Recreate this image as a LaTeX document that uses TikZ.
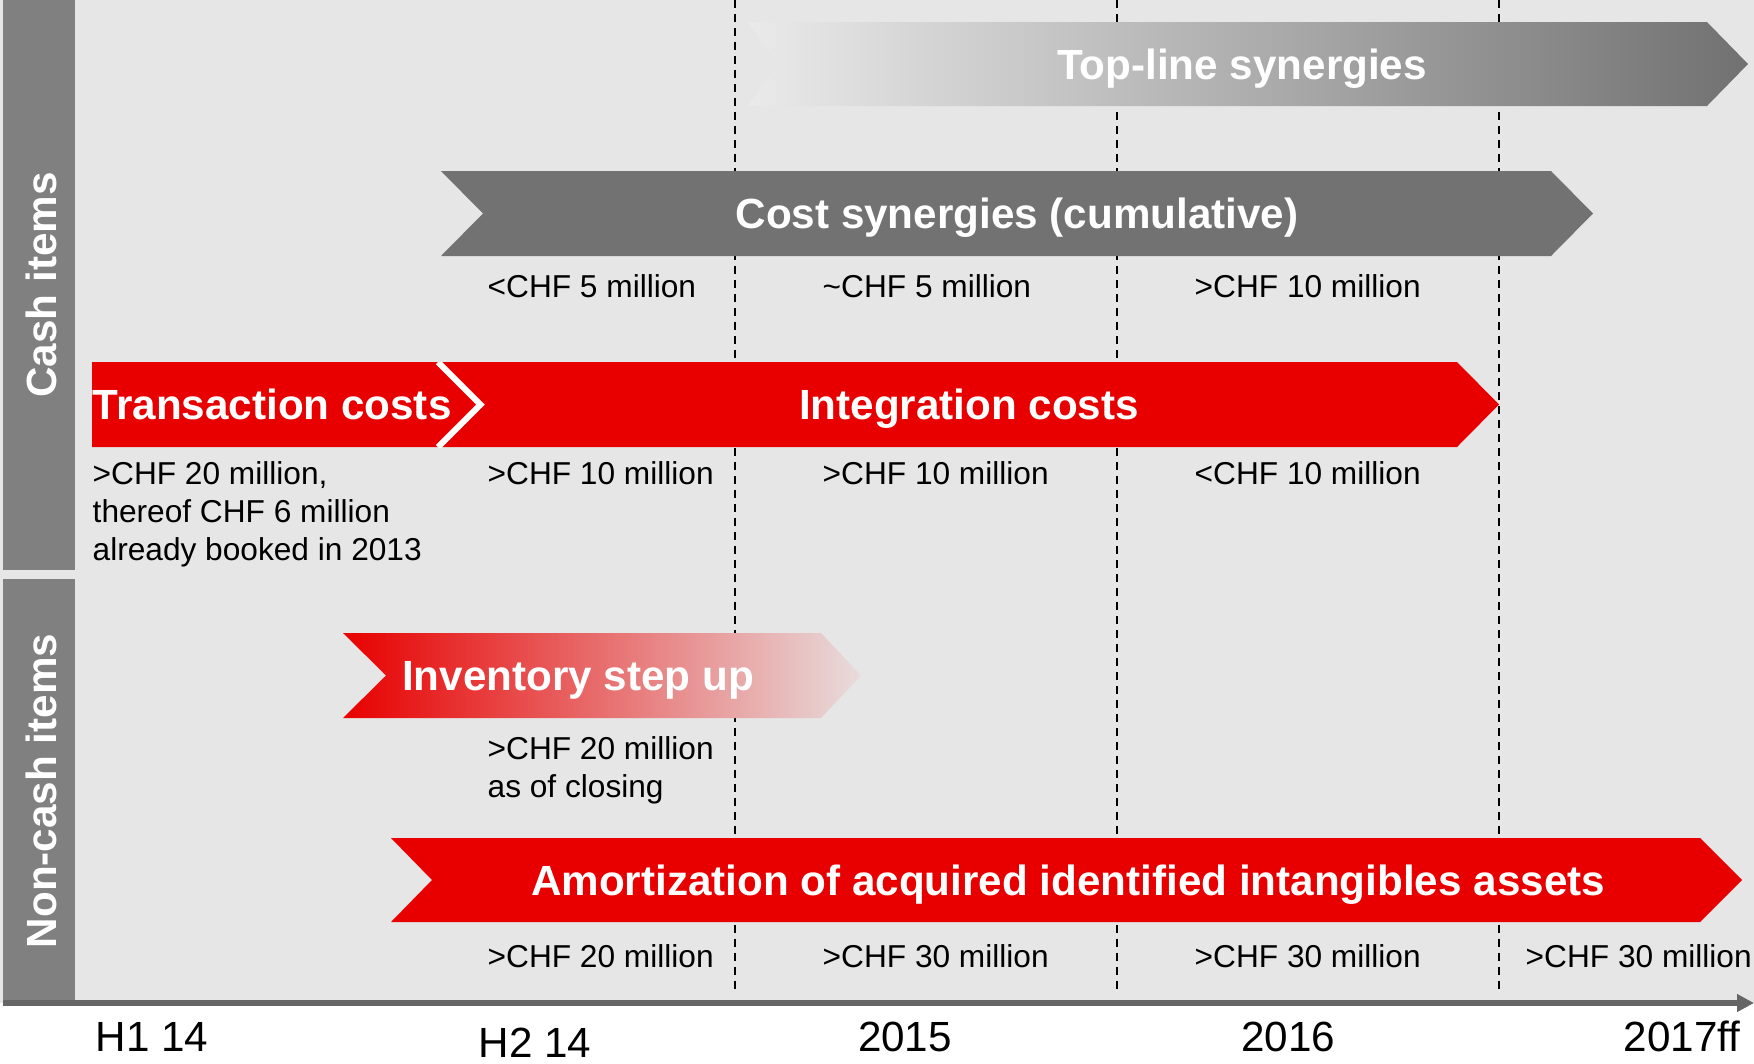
\documentclass[tikz,border=0pt]{standalone}
\usepackage{fontspec}
\setmainfont{Liberation Sans}
\usetikzlibrary{arrows.meta}

\definecolor{panel}{HTML}{E6E6E6}
\definecolor{sidegray}{HTML}{808080}
\definecolor{costgray}{HTML}{727272}
\definecolor{topL}{HTML}{EAEAEA}
\definecolor{topR}{HTML}{717171}
\definecolor{brand}{RGB}{232,0,0}
\definecolor{invR}{RGB}{232,220,220}
\definecolor{axisgray}{HTML}{666666}

\tikzset{
  band label/.style={text=white, font=\fontsize{12}{14}\selectfont\bfseries, inner sep=0pt, anchor=base},
  value/.style={text=black, font=\fontsize{9}{10.8}\selectfont, inner sep=0pt, anchor=base west},
  value block/.style={text=black, font=\fontsize{9}{10.8}\selectfont, inner sep=0pt, anchor=north west, align=left},
  year/.style={text=black, font=\fontsize{12}{14}\selectfont, inner sep=0pt},
  side label/.style={text=white, font=\fontsize{12}{14}\selectfont\bfseries, rotate=90, anchor=base, inner sep=0pt},
  divider/.style={draw=black, line width=0.02cm, dash pattern=on 0.08cm off 0.06cm},
}

\begin{document}
\begin{tikzpicture}[x=0.01cm, y=-0.01cm]
  \useasboundingbox (0,0) rectangle (1754,1063);
  \fill[white] (0,0) rectangle (1754,1063);
  \fill[panel] (0,0) rectangle (1754,1003);

  % period dividers
  \foreach \name/\xx in {dA/735, dB/1117, dC/1499} {
    \coordinate (\name top) at (\xx,0);
    \coordinate (\name bot) at (\xx,992);
    \draw[divider] (\name top) -- (\name bot);
  }

  % top-line synergies band (fading in from the left)
  \shade[left color=topL, right color=topR]
    (748,22) -- (1707,22) -- (1748,64) -- (1707,106) -- (748,106) -- (777,64) -- cycle;

  % cost synergies band
  \fill[costgray]
    (441,171) -- (1551,171) -- (1593,213.5) -- (1551,256) -- (441,256) -- (483,213.5) -- cycle;

  % transaction + integration costs
  \fill[brand] (92,362) -- (438,362) -- (480,404.5) -- (438,447) -- (92,447) -- cycle;
  \fill[brand] (438,362) -- (1457,362) -- (1499,404.5) -- (1457,447) -- (438,447) -- (480,404.5) -- cycle;
  \begin{scope}
    \clip (0,362) rectangle (1754,447);
    \draw[white, line width=0.06cm] (438,362) -- (480.5,404.5) -- (438,447);
  \end{scope}

  % inventory step up (fading out to the right)
  \shade[left color=brand, right color=invR]
    (343,633) -- (821,633) -- (861,675.5) -- (821,718) -- (343,718) -- (386,675.5) -- cycle;

  % amortization band
  \fill[brand]
    (391,838) -- (1700,838) -- (1742,880) -- (1700,922) -- (391,922) -- (432,880) -- cycle;

  % band labels
  \node[band label] (topline) at (1242,79) {Top-line synergies};
  \node[band label] (costsyn) at (1017,228.5) {Cost synergies (cumulative)};
  \node[band label, anchor=base west] (transaction) at (92,419) {Transaction costs};
  \node[band label] (integration) at (969,419) {Integration costs};
  \node[band label] (inventory) at (578,690.5) {Inventory step up};
  \node[band label] (amort) at (1068,895) {Amortization of acquired identified intangibles assets};

  % values, cost synergies
  \node[value] (cs1) at (487,297) {<CHF 5 million};
  \node[value] (cs2) at (822,297) {\textasciitilde CHF 5 million};
  \node[value] (cs3) at (1194,297) {>CHF 10 million};

  % values, transaction and integration costs
  \node[value block] (tc) at (92,461) {>CHF 20 million,\\thereof CHF 6 million\\already booked in 2013};
  \node[value] (ic1) at (487,484) {>CHF 10 million};
  \node[value] (ic2) at (822,484) {>CHF 10 million};
  \node[value] (ic3) at (1194,484) {<CHF 10 million};

  % values, inventory step up
  \node[value block] (inv) at (487,736) {>CHF 20 million\\as of closing};

  % values, amortization
  \node[value] (am1) at (487,967) {>CHF 20 million};
  \node[value] (am2) at (822,967) {>CHF 30 million};
  \node[value] (am3) at (1194,967) {>CHF 30 million};
  \node[value] (am4) at (1525,967) {>CHF 30 million};

  % side headers
  \fill[sidegray] (3,0) rectangle (75,570);
  \fill[sidegray] (3,579) rectangle (75,1000);
  \node[side label] (cash) at (56,285) {Cash items};
  \node[side label] (noncash) at (56,791) {Non-cash items};

  % time axis
  \coordinate (axisL) at (3,1003);
  \coordinate (axisR) at (1754,1003);
  \draw[axisgray, line width=0.065cm, -{Triangle[length=0.17cm, width=0.17cm]}] (axisL) -- (axisR);

  \node[year, anchor=base west] (h1) at (95,1051) {H1 14};
  \node[year, anchor=base west] (h2) at (478,1057) {H2 14};
  \node[year, anchor=base] (y15) at (905,1051) {2015};
  \node[year, anchor=base] (y16) at (1288,1051) {2016};
  \node[year, anchor=base west] (y17) at (1623,1051) {2017ff};
\end{tikzpicture}
\end{document}
